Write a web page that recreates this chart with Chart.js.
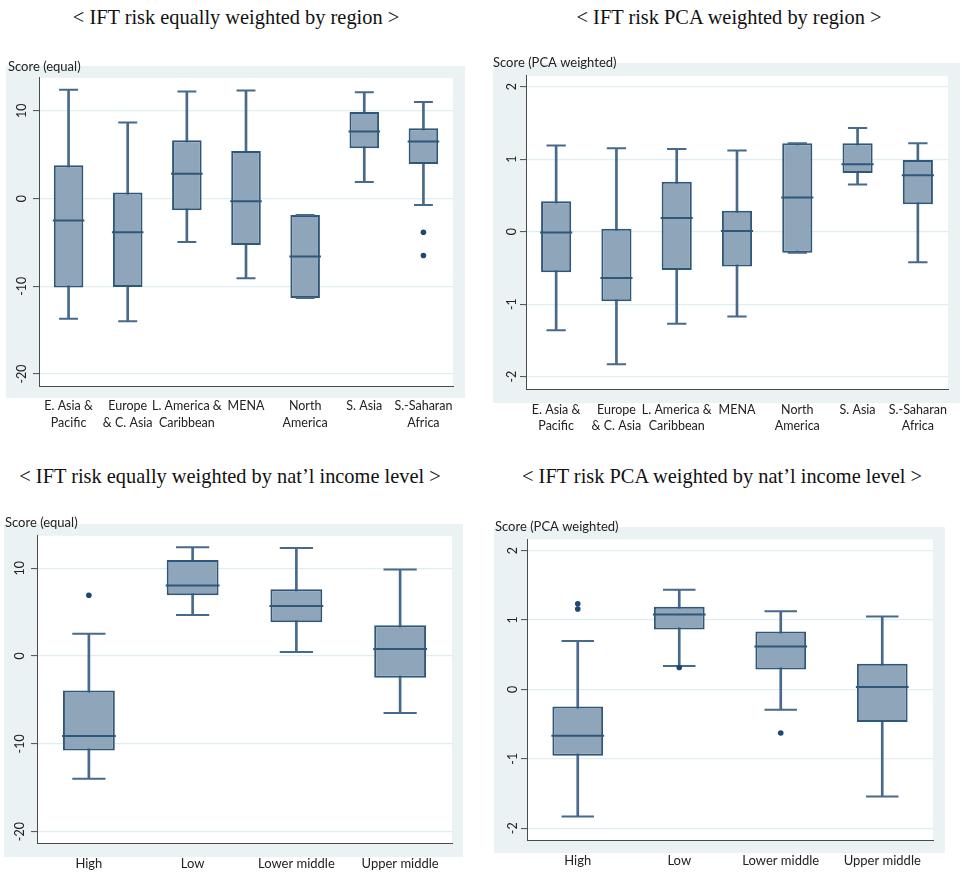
<!DOCTYPE html>
<html>
<head>
<meta charset="utf-8">
<script src="https://cdn.jsdelivr.net/npm/chart.js@4/dist/chart.umd.min.js"></script>
<style>
  body { margin: 0; background: #fff; width: 962px; height: 874px; position: relative; overflow: hidden; }
  .heading { position: absolute; font-family: "Liberation Serif", "Times New Roman", serif; font-size: 21px; color: #111; white-space: nowrap; transform: translate(-50%, -50%) scaleX(0.97); }
  .panel { position: absolute; }
</style>
</head>
<body>
<div class="heading" style="left:236px; top:17px;">&lt; IFT risk equally weighted by region &gt;</div>
<div class="heading" style="left:729px; top:17px;">&lt; IFT risk PCA weighted by region &gt;</div>
<div class="heading" style="left:230px; top:476px;">&lt; IFT risk equally weighted by nat’l income level &gt;</div>
<div class="heading" style="left:722px; top:476px;">&lt; IFT risk PCA weighted by nat’l income level &gt;</div>

<div class="panel" style="left:0; top:50px; width:480px; height:390px;"><canvas id="eqRegion"></canvas></div>
<div class="panel" style="left:480px; top:50px; width:482px; height:390px;"><canvas id="pcaRegion"></canvas></div>
<div class="panel" style="left:0; top:500px; width:480px; height:374px;"><canvas id="eqIncome"></canvas></div>
<div class="panel" style="left:480px; top:500px; width:482px; height:374px;"><canvas id="pcaIncome"></canvas></div>

<script>
// categories
const regionLabels = [["E. Asia &", "Pacific"], ["Europe", "& C. Asia"], ["L. America &", "Caribbean"], "MENA", ["North", "America"], "S. Asia", ["S.-Saharan", "Africa"]];
const incomeLabels = ["High", "Low", "Lower middle", "Upper middle"];

// y tick labels
const equalTicks = [-20, -10, 0, 10];
const pcaTicks = [-2, -1, 0, 1, 2];

// score (equal) by region: lower whisker, q1, median, q3, upper whisker, outside values
const eqRegionLow = [-13.7, -14.0, -4.96, -9.1, -11.34, 1.87, -0.73];
const eqRegionQ1 = [-10.15, -10.08, -1.34, -5.31, -11.34, 5.73, 3.93];
const eqRegionMed = [-2.5, -3.85, 2.82, -0.31, -6.6, 7.63, 6.49];
const eqRegionQ3 = [3.8, 0.69, 6.64, 5.42, -1.87, 9.85, 8.02];
const eqRegionHigh = [12.4, 8.66, 12.2, 12.3, -1.87, 12.1, 10.99];
const eqRegionOut = [[], [], [], [], [], [], [-3.85, -6.49]];

// score (PCA weighted) by region
const pcaRegionLow = [-1.36, -1.83, -1.27, -1.17, -0.29, 0.65, -0.42];
const pcaRegionQ1 = [-0.56, -0.96, -0.53, -0.48, -0.29, 0.81, 0.38];
const pcaRegionMed = [-0.01, -0.64, 0.19, 0.01, 0.47, 0.93, 0.78];
const pcaRegionQ3 = [0.42, 0.04, 0.69, 0.29, 1.22, 1.22, 0.99];
const pcaRegionHigh = [1.19, 1.15, 1.14, 1.12, 1.22, 1.43, 1.22];
const pcaRegionOut = [[], [], [], [], [], [], []];

// score (equal) by income level
const eqIncomeLow = [-13.97, 4.66, 0.46, -6.49];
const eqIncomeQ1 = [-10.76, 6.91, 3.85, -2.48];
const eqIncomeMed = [-9.12, 8.02, 5.69, 0.8];
const eqIncomeQ3 = [-3.93, 10.92, 7.6, 3.51];
const eqIncomeHigh = [2.52, 12.37, 12.29, 9.85];
const eqIncomeOut = [[6.91], [], [], []];

// score (PCA weighted) by income level
const pcaIncomeLow = [-1.83, 0.338, -0.295, -1.543];
const pcaIncomeQ1 = [-0.957, 0.862, 0.286, -0.471];
const pcaIncomeMed = [-0.67, 1.08, 0.619, 0.033];
const pcaIncomeQ3 = [-0.248, 1.19, 0.833, 0.367];
const pcaIncomeHigh = [0.695, 1.433, 1.124, 1.048];
const pcaIncomeOut = [[1.233, 1.157], [0.314], [-0.629], []];

const FILL = "#8ea5ba";
const EDGE = "#2f5779";
const WHISKER = "#46698c";
const DOT = "#1b4877";
const PANEL_BG = "#eaf2f3";
const GRID = "#e1eef1";
const AXIS = "#4a4a4a";
const FONT = "Lato, 'Open Sans', sans-serif";

// light blue frame behind the white plot area
const panelBackground = {
  id: "panelBackground",
  beforeDraw(chart, args, opts) {
    const { ctx, chartArea } = chart;
    const [x, y, w, h] = opts.rect;
    ctx.save();
    ctx.fillStyle = PANEL_BG;
    ctx.fillRect(x, y, w, h);
    ctx.fillStyle = "#fff";
    ctx.fillRect(chartArea.left, chartArea.top, chartArea.right - chartArea.left, chartArea.bottom - chartArea.top);
    ctx.restore();
  },
};

const categoryWidth = (ctx) => {
  const area = ctx.chart.chartArea;
  if (!area) return 10;
  return (area.right - area.left) / ctx.chart.data.labels.length;
};

const makeBoxChart = (id, s) => {
  const outCount = Math.max(...s.out.map((o) => o.length));
  const outSets = [];
  for (let k = 0; k < outCount; k++) {
    outSets.push({
      type: "line",
      data: s.out.map((o) => (o[k] === undefined ? null : o[k])),
      showLine: false,
      pointStyle: "circle",
      pointRadius: 2.8,
      pointBackgroundColor: DOT,
      pointBorderColor: DOT,
      pointBorderWidth: 0,
      order: 0,
    });
  }
  const tickLine = (data) => ({
    type: "line",
    data: data,
    showLine: false,
    pointStyle: "line",
    pointRadius: (ctx) => categoryWidth(ctx) * 0.16,
    pointBorderColor: WHISKER,
    pointBorderWidth: 2,
    order: 1,
  });

  return new Chart(document.getElementById(id), {
    type: "bar",
    data: {
      labels: s.labels,
      datasets: [
        // whisker stems
        {
          data: s.low.map((v, i) => [v, s.high[i]]),
          backgroundColor: WHISKER,
          barThickness: 2,
          grouped: false,
          order: 3,
        },
        // boxes
        {
          data: s.q1.map((v, i) => [v, s.q3[i]]),
          backgroundColor: FILL,
          borderColor: EDGE,
          borderWidth: 2,
          borderSkipped: false,
          barPercentage: 0.5,
          categoryPercentage: 1,
          grouped: false,
          order: 2,
        },
        // medians
        {
          type: "line",
          data: s.med,
          showLine: false,
          pointStyle: "line",
          pointRadius: (ctx) => categoryWidth(ctx) * 0.25 + 1,
          pointBorderColor: EDGE,
          pointBorderWidth: 2,
          order: 1,
        },
        tickLine(s.low),
        tickLine(s.high),
        ...outSets,
      ],
    },
    options: {
      responsive: true,
      maintainAspectRatio: false,
      animation: false,
      events: [],
      layout: { padding: s.padding },
      plugins: {
        legend: { display: false },
        tooltip: { enabled: false },
        title: {
          display: true,
          text: s.yTitle,
          align: "start",
          color: "#222",
          font: { family: FONT, size: 13, weight: "normal", lineHeight: 1.2 },
          padding: s.titlePad,
        },
        panelBackground: { rect: s.bgRect },
      },
      scales: {
        x: {
          offset: true,
          grid: { display: false, drawTicks: false },
          border: { display: true, color: AXIS, width: 1 },
          ticks: {
            color: "#222",
            font: { family: FONT, size: s.xFont, lineHeight: 1.32 },
            padding: s.xPad,
            maxRotation: 0,
            minRotation: 0,
            autoSkip: false,
          },
          afterFit: (scale) => { scale.height = s.xHeight; },
        },
        y: {
          min: s.yMin,
          max: s.yMax,
          afterBuildTicks: (scale) => { scale.ticks = s.yTicks.map((v) => ({ value: v })); },
          grid: { color: GRID, lineWidth: 1.2, drawTicks: true, tickLength: 6, tickColor: AXIS, tickWidth: 1 },
          border: { display: true, color: AXIS, width: 1 },
          ticks: {
            color: "#222",
            font: { family: FONT, size: 12.5 },
            minRotation: 90,
            maxRotation: 90,
            crossAlign: "center",
            padding: s.yPad,
            callback: (v) => String(v),
          },
          afterFit: (scale) => { scale.width = s.yWidth; },
        },
      },
    },
    plugins: [panelBackground],
  });
};

window.addEventListener("DOMContentLoaded", () => {
  makeBoxChart("eqRegion", {
    labels: regionLabels, low: eqRegionLow, q1: eqRegionQ1, med: eqRegionMed, q3: eqRegionQ3, high: eqRegionHigh, out: eqRegionOut,
    yTitle: "Score (equal)", yTicks: equalTicks, yMin: -21.37, yMax: 13.76,
    padding: { left: 8, right: 27, top: 0, bottom: 0 }, titlePad: { top: 9, bottom: 3.2 },
    yWidth: 31, yPad: 1, xHeight: 54, xPad: 12, xFont: 12.5, bgRect: [6, 16, 459, 332],
  });
  makeBoxChart("pcaRegion", {
    labels: regionLabels, low: pcaRegionLow, q1: pcaRegionQ1, med: pcaRegionMed, q3: pcaRegionQ3, high: pcaRegionHigh, out: pcaRegionOut,
    yTitle: "Score (PCA weighted)", yTicks: pcaTicks, yMin: -2.17, yMax: 2.15,
    padding: { left: 13, right: 14, top: 0, bottom: 0 }, titlePad: { top: 5, bottom: 5.2 },
    yWidth: 33, yPad: 2.5, xHeight: 51, xPad: 12.5, xFont: 12.5, bgRect: [13, 13, 467, 340],
  });
  makeBoxChart("eqIncome", {
    labels: incomeLabels, low: eqIncomeLow, q1: eqIncomeQ1, med: eqIncomeMed, q3: eqIncomeQ3, high: eqIncomeHigh, out: eqIncomeOut,
    yTitle: "Score (equal)", yTicks: equalTicks, yMin: -21.29, yMax: 13.68,
    padding: { left: 5, right: 28, top: 0, bottom: 0 }, titlePad: { top: 15, bottom: 5.2 },
    yWidth: 32, yPad: 1, xHeight: 31, xPad: 12, xFont: 13, bgRect: [4, 24, 459, 333],
  });
  makeBoxChart("pcaIncome", {
    labels: incomeLabels, low: pcaIncomeLow, q1: pcaIncomeQ1, med: pcaIncomeMed, q3: pcaIncomeQ3, high: pcaIncomeHigh, out: pcaIncomeOut,
    yTitle: "Score (PCA weighted)", yTicks: pcaTicks, yMin: -2.17, yMax: 2.16,
    padding: { left: 15, right: 29, top: 0, bottom: 0 }, titlePad: { top: 19, bottom: 4.8 },
    yWidth: 32, yPad: 2.5, xHeight: 34, xPad: 12, xFont: 13, bgRect: [14, 27, 451, 326],
  });
});
</script>
</body>
</html>
